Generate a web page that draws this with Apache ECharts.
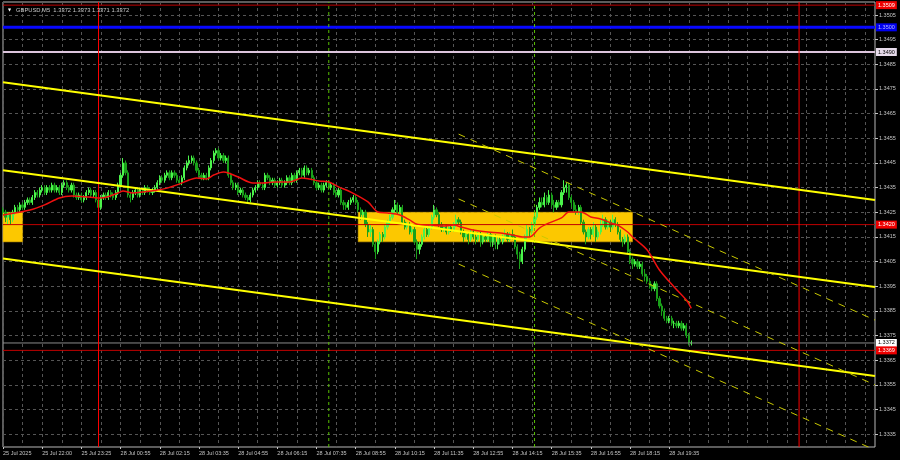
<!DOCTYPE html>
<html><head><meta charset="utf-8">
<script src="https://cdn.jsdelivr.net/npm/echarts@6/dist/echarts.min.js"></script>
<style>html,body{margin:0;padding:0;background:#000}#c{width:900px;height:460px}</style>
</head><body><div id="c"></div>
<script>
// ---------------- data ----------------
const opens=[1.3426,1.3425,1.3423,1.3424,1.3422,1.3425,1.3427,1.3426,1.3428,1.3427,
1.3429,1.3430,1.3429,1.3431,1.3433,1.3432,1.3434,1.3435,1.3433,1.3435,
1.3434,1.3436,1.3434,1.3435,1.3433,1.3436,1.3437,1.3435,1.3434,1.3436,
1.3432,1.3431,1.3432,1.3430,1.3431,1.3433,1.3434,1.3432,1.3433,1.3430,
1.3427,1.3431,1.3432,1.3431,1.3433,1.3432,1.3431,1.3433,1.3436,1.3440,
1.3445,1.3441,1.3432,1.3431,1.3433,1.3434,1.3432,1.3434,1.3433,1.3435,
1.3434,1.3433,1.3434,1.3435,1.3437,1.3439,1.3438,1.3440,1.3441,1.3439,
1.3441,1.3440,1.3438,1.3437,1.3439,1.3443,1.3445,1.3446,1.3447,1.3445,
1.3442,1.3440,1.3439,1.3440,1.3439,1.3443,1.3446,1.3449,1.3450,1.3447,
1.3448,1.3446,1.3447,1.3440,1.3437,1.3435,1.3436,1.3433,1.3434,1.3432,
1.3431,1.3430,1.3432,1.3434,1.3435,1.3437,1.3436,1.3435,1.3440,1.3439,
1.3437,1.3438,1.3436,1.3437,1.3438,1.3436,1.3437,1.3439,1.3437,1.3440,
1.3438,1.3441,1.3442,1.3440,1.3443,1.3441,1.3442,1.3439,1.3437,1.3435,
1.3436,1.3434,1.3436,1.3437,1.3435,1.3436,1.3433,1.3432,1.3434,1.3429,
1.3428,1.3427,1.3429,1.3430,1.3431,1.3429,1.3426,1.3424,1.3425,1.3420,
1.3417,1.3418,1.3412,1.3409,1.3413,1.3416,1.3415,1.3419,1.3421,1.3423,
1.3426,1.3428,1.3425,1.3427,1.3421,1.3419,1.3420,1.3417,1.3418,1.3413,
1.3410,1.3412,1.3415,1.3418,1.3416,1.3419,1.3423,1.3426,1.3424,1.3420,
1.3418,1.3419,1.3417,1.3419,1.3418,1.3420,1.3422,1.3421,1.3417,1.3415,
1.3416,1.3414,1.3417,1.3415,1.3414,1.3416,1.3413,1.3415,1.3414,1.3416,
1.3413,1.3415,1.3412,1.3414,1.3413,1.3415,1.3416,1.3414,1.3416,1.3415,
1.3411,1.3408,1.3405,1.3410,1.3415,1.3418,1.3417,1.3420,1.3423,1.3427,
1.3429,1.3428,1.3431,1.3429,1.3432,1.3428,1.3427,1.3429,1.3428,1.3433,
1.3435,1.3436,1.3431,1.3429,1.3426,1.3425,1.3427,1.3421,1.3417,1.3415,
1.3418,1.3416,1.3419,1.3415,1.3417,1.3420,1.3422,1.3419,1.3421,1.3419,
1.3422,1.3420,1.3417,1.3414,1.3413,1.3415,1.3409,1.3406,1.3404,1.3405,
1.3403,1.3404,1.3400,1.3399,1.3397,1.3395,1.3394,1.3396,1.3390,1.3387,
1.3385,1.3382,1.3381,1.3382,1.3380,1.3380,1.3379,1.3380,1.3378,1.3379,
1.3375,1.3372];
const closes=[1.3425,1.3423,1.3424,1.3422,1.3425,1.3427,1.3426,1.3428,1.3427,1.3429,
1.3430,1.3429,1.3431,1.3433,1.3432,1.3434,1.3435,1.3433,1.3435,1.3434,
1.3436,1.3434,1.3435,1.3433,1.3436,1.3437,1.3435,1.3434,1.3436,1.3432,
1.3431,1.3432,1.3430,1.3431,1.3433,1.3434,1.3432,1.3433,1.3430,1.3427,
1.3431,1.3432,1.3431,1.3433,1.3432,1.3431,1.3433,1.3436,1.3440,1.3445,
1.3441,1.3432,1.3431,1.3433,1.3434,1.3432,1.3434,1.3433,1.3435,1.3434,
1.3433,1.3434,1.3435,1.3437,1.3439,1.3438,1.3440,1.3441,1.3439,1.3441,
1.3440,1.3438,1.3437,1.3439,1.3443,1.3445,1.3446,1.3447,1.3445,1.3442,
1.3440,1.3439,1.3440,1.3439,1.3443,1.3446,1.3449,1.3450,1.3447,1.3448,
1.3446,1.3447,1.3440,1.3437,1.3435,1.3436,1.3433,1.3434,1.3432,1.3431,
1.3430,1.3432,1.3434,1.3435,1.3437,1.3436,1.3435,1.3440,1.3439,1.3437,
1.3438,1.3436,1.3437,1.3438,1.3436,1.3437,1.3439,1.3437,1.3440,1.3438,
1.3441,1.3442,1.3440,1.3443,1.3441,1.3442,1.3439,1.3437,1.3435,1.3436,
1.3434,1.3436,1.3437,1.3435,1.3436,1.3433,1.3432,1.3434,1.3429,1.3428,
1.3427,1.3429,1.3430,1.3431,1.3429,1.3426,1.3424,1.3425,1.3420,1.3417,
1.3418,1.3412,1.3409,1.3413,1.3416,1.3415,1.3419,1.3421,1.3423,1.3426,
1.3428,1.3425,1.3427,1.3421,1.3419,1.3420,1.3417,1.3418,1.3413,1.3410,
1.3412,1.3415,1.3418,1.3416,1.3419,1.3423,1.3426,1.3424,1.3420,1.3418,
1.3419,1.3417,1.3419,1.3418,1.3420,1.3422,1.3421,1.3417,1.3415,1.3416,
1.3414,1.3417,1.3415,1.3414,1.3416,1.3413,1.3415,1.3414,1.3416,1.3413,
1.3415,1.3412,1.3414,1.3413,1.3415,1.3416,1.3414,1.3416,1.3415,1.3411,
1.3408,1.3405,1.3410,1.3415,1.3418,1.3417,1.3420,1.3423,1.3427,1.3429,
1.3428,1.3431,1.3429,1.3432,1.3428,1.3427,1.3429,1.3428,1.3433,1.3435,
1.3436,1.3431,1.3429,1.3426,1.3425,1.3427,1.3421,1.3417,1.3415,1.3418,
1.3416,1.3419,1.3415,1.3417,1.3420,1.3422,1.3419,1.3421,1.3419,1.3422,
1.3420,1.3417,1.3414,1.3413,1.3415,1.3409,1.3406,1.3404,1.3405,1.3403,
1.3404,1.3400,1.3399,1.3397,1.3395,1.3394,1.3396,1.3390,1.3387,1.3385,
1.3382,1.3381,1.3382,1.3380,1.3380,1.3379,1.3380,1.3378,1.3379,1.3375,
1.3372,1.3372];
const highs=[1.3427,1.3426,1.3425,1.3425,1.3426,1.3428,1.3428,1.3429,1.3429,1.3430,
1.3431,1.3431,1.3432,1.3434,1.3434,1.3435,1.3436,1.3436,1.3436,1.3436,
1.3437,1.3437,1.3436,1.3436,1.3437,1.3438,1.3438,1.3436,1.3437,1.3437,
1.3433,1.3433,1.3433,1.3432,1.3434,1.3435,1.3435,1.3434,1.3434,1.3431,
1.3432,1.3433,1.3433,1.3434,1.3434,1.3433,1.3434,1.3437,1.3441,1.3447,
1.3446,1.3442,1.3433,1.3434,1.3435,1.3435,1.3435,1.3435,1.3436,1.3436,
1.3435,1.3435,1.3436,1.3438,1.3440,1.3440,1.3441,1.3442,1.3442,1.3442,
1.3442,1.3441,1.3439,1.3440,1.3444,1.3446,1.3448,1.3448,1.3448,1.3446,
1.3443,1.3441,1.3441,1.3441,1.3444,1.3447,1.3450,1.3451,1.3451,1.3449,
1.3449,1.3448,1.3448,1.3441,1.3438,1.3437,1.3437,1.3435,1.3435,1.3433,
1.3432,1.3433,1.3435,1.3436,1.3438,1.3438,1.3437,1.3441,1.3441,1.3440,
1.3439,1.3439,1.3438,1.3439,1.3439,1.3438,1.3440,1.3440,1.3441,1.3441,
1.3442,1.3443,1.3443,1.3444,1.3444,1.3443,1.3443,1.3440,1.3438,1.3437,
1.3437,1.3437,1.3438,1.3438,1.3437,1.3437,1.3434,1.3435,1.3435,1.3430,
1.3429,1.3430,1.3431,1.3432,1.3432,1.3430,1.3427,1.3426,1.3426,1.3421,
1.3420,1.3419,1.3413,1.3414,1.3417,1.3417,1.3420,1.3422,1.3424,1.3427,
1.3430,1.3429,1.3428,1.3428,1.3422,1.3421,1.3421,1.3419,1.3419,1.3414,
1.3413,1.3416,1.3419,1.3419,1.3420,1.3424,1.3428,1.3427,1.3425,1.3421,
1.3420,1.3420,1.3420,1.3420,1.3421,1.3424,1.3423,1.3422,1.3418,1.3417,
1.3417,1.3418,1.3418,1.3416,1.3417,1.3417,1.3416,1.3416,1.3417,1.3417,
1.3416,1.3416,1.3415,1.3415,1.3416,1.3418,1.3417,1.3417,1.3418,1.3416,
1.3412,1.3409,1.3411,1.3416,1.3420,1.3419,1.3421,1.3425,1.3428,1.3431,
1.3431,1.3433,1.3432,1.3434,1.3433,1.3430,1.3430,1.3430,1.3434,1.3438,
1.3437,1.3437,1.3432,1.3430,1.3428,1.3428,1.3428,1.3422,1.3418,1.3419,
1.3419,1.3421,1.3420,1.3418,1.3422,1.3424,1.3423,1.3422,1.3422,1.3424,
1.3423,1.3421,1.3418,1.3415,1.3416,1.3416,1.3410,1.3407,1.3406,1.3406,
1.3405,1.3405,1.3402,1.3400,1.3398,1.3396,1.3397,1.3397,1.3391,1.3388,
1.3386,1.3383,1.3383,1.3383,1.3381,1.3381,1.3381,1.3381,1.3380,1.3380,
1.3376,1.3373];
const lows=[1.3424,1.3421,1.3420,1.3420,1.3421,1.3424,1.3425,1.3425,1.3426,1.3426,
1.3428,1.3428,1.3428,1.3430,1.3431,1.3431,1.3433,1.3432,1.3432,1.3433,
1.3433,1.3433,1.3433,1.3432,1.3432,1.3435,1.3434,1.3433,1.3433,1.3431,
1.3430,1.3430,1.3429,1.3429,1.3430,1.3432,1.3431,1.3431,1.3429,1.3426,
1.3426,1.3430,1.3430,1.3430,1.3431,1.3430,1.3430,1.3432,1.3435,1.3439,
1.3440,1.3431,1.3429,1.3430,1.3432,1.3431,1.3431,1.3432,1.3432,1.3433,
1.3432,1.3432,1.3433,1.3434,1.3436,1.3437,1.3437,1.3439,1.3438,1.3438,
1.3439,1.3437,1.3436,1.3436,1.3438,1.3442,1.3444,1.3445,1.3444,1.3441,
1.3439,1.3438,1.3438,1.3438,1.3438,1.3442,1.3445,1.3448,1.3446,1.3446,
1.3445,1.3445,1.3439,1.3436,1.3434,1.3434,1.3432,1.3432,1.3431,1.3430,
1.3429,1.3429,1.3431,1.3433,1.3434,1.3435,1.3434,1.3434,1.3438,1.3436,
1.3436,1.3435,1.3435,1.3436,1.3435,1.3435,1.3436,1.3436,1.3436,1.3437,
1.3437,1.3440,1.3439,1.3439,1.3440,1.3440,1.3438,1.3436,1.3434,1.3434,
1.3433,1.3433,1.3435,1.3434,1.3434,1.3432,1.3431,1.3431,1.3428,1.3426,
1.3426,1.3426,1.3428,1.3429,1.3428,1.3425,1.3422,1.3422,1.3419,1.3415,
1.3415,1.3411,1.3406,1.3408,1.3412,1.3413,1.3414,1.3418,1.3420,1.3422,
1.3425,1.3424,1.3424,1.3420,1.3418,1.3418,1.3416,1.3416,1.3412,1.3406,
1.3408,1.3411,1.3414,1.3415,1.3415,1.3418,1.3422,1.3423,1.3419,1.3417,
1.3417,1.3416,1.3416,1.3417,1.3417,1.3419,1.3420,1.3416,1.3413,1.3414,
1.3412,1.3413,1.3414,1.3412,1.3413,1.3411,1.3412,1.3413,1.3413,1.3411,
1.3411,1.3410,1.3410,1.3412,1.3412,1.3414,1.3413,1.3413,1.3414,1.3410,
1.3406,1.3402,1.3404,1.3409,1.3414,1.3415,1.3416,1.3419,1.3422,1.3426,
1.3427,1.3427,1.3428,1.3428,1.3427,1.3425,1.3426,1.3427,1.3427,1.3432,
1.3433,1.3430,1.3427,1.3425,1.3424,1.3424,1.3420,1.3416,1.3412,1.3414,
1.3414,1.3415,1.3413,1.3414,1.3416,1.3419,1.3418,1.3418,1.3417,1.3418,
1.3419,1.3416,1.3413,1.3411,1.3412,1.3408,1.3404,1.3402,1.3403,1.3402,
1.3402,1.3399,1.3397,1.3396,1.3394,1.3393,1.3393,1.3389,1.3386,1.3383,
1.3381,1.3380,1.3380,1.3379,1.3378,1.3378,1.3378,1.3377,1.3377,1.3374,
1.3371,1.3371];
// moving average [bar index, value]
const maPoints=[[0,1.34239],[11,1.34259],[17,1.3428],[23,1.34308],[28,1.34316],[35,1.34312],[40,1.34308],
[47,1.34328],[49,1.34336],[53,1.34328],[57,1.34332],[63,1.3434],[67,1.34348],[71,1.34361],[76,1.34381],
[79,1.34389],[83,1.34385],[86,1.34401],[90,1.34413],[92,1.34409],[96,1.34393],[102,1.34369],[106,1.34369],
[111,1.34373],[117,1.34373],[122,1.34389],[125,1.34385],[129,1.34377],[133,1.34373],[137,1.34353],
[142,1.34332],[149,1.34292],[153,1.34251],[157,1.34247],[162,1.34239],[166,1.34219],[169,1.34202],
[175,1.34198],[180,1.34194],[184,1.34198],[187,1.3419],[192,1.34178],[198,1.3417],[203,1.34166],
[208,1.34158],[212,1.3415],[215,1.3415],[219,1.34186],[223,1.34207],[228,1.34227],[231,1.34251],
[236,1.34251],[240,1.34231],[244,1.34223],[248,1.34207],[251,1.34198],[255,1.3417],[257,1.3415],
[263,1.34097],[268,1.34016],[274,1.33947],[279,1.33894],[281,1.3386]];
const timeLabels=["25 Jul 2025","25 Jul 22:00","25 Jul 23:25","28 Jul 00:55","28 Jul 02:15","28 Jul 03:35",
"28 Jul 04:55","28 Jul 06:15","28 Jul 07:35","28 Jul 08:55","28 Jul 10:15","28 Jul 11:35","28 Jul 12:55",
"28 Jul 14:15","28 Jul 15:35","28 Jul 16:55","28 Jul 18:15","28 Jul 19:35"];
const priceTicks=[1.3335,1.3345,1.3355,1.3365,1.3375,1.3385,1.3395,1.3405,1.3415,1.3425,1.3435,1.3445,
1.3455,1.3465,1.3475,1.3485,1.3495,1.3505];
const levelValues=[1.3509,1.3500,1.3490,1.3420,1.3372,1.3369];
const redVerticals=[39,325];
const greenVerticals=[133,217];
const boxes=[[0,8,1.3425,1.3413],[145,257,1.3425,1.3413]];
const trendSolid=[[[0,1.34777],[356,1.3430]],[[0,1.3442],[356,1.33947]],[[0,1.34063],[356,1.33586]]];
const trendDashed=[[[186,1.34567],[356,1.33813]],[[186,1.34304],[356,1.3355]],[[186,1.3404],[356,1.33286]]];
const titleText="GBPUSD,M5  1.3372 1.3373 1.3371 1.3372";

// ---------------- chart ----------------
const SLOTS=357, LAST=SLOTS-1;
const Y_MIN=1.332982, Y_MAX=1.351027;
const cats=Array.from({length:SLOTS},(_,i)=>String(i));
const candles=opens.map((o,i)=>[o,closes[i],lows[i],highs[i]]);
const FONT='Liberation Sans';
const AX='#c4c4c4';
const levelStyle=[
 {line:'#c00000',w:1,bg:'#ee0000',fg:'#ffffff'},
 {line:'#0808ff',w:3,bg:'#0000f0',fg:'#b8b8ff'},
 {line:'#dcc4dc',w:2,bg:'#e8dcec',fg:'#000000'},
 {line:'#c00000',w:1,bg:'#ee0000',fg:'#ffffff'},
 {line:'#8a8a8a',w:1,bg:'#ffffff',fg:'#000000'},
 {line:'#c00000',w:1,bg:'#ee0000',fg:'#ffffff'}
];
const series=[];
series.push({type:'line',data:[],z:1,silent:true,
  markArea:{silent:true,itemStyle:{color:'#fcc800',borderColor:'#d8a800',borderWidth:0.5},
   data:boxes.map(b=>[{xAxis:b[0],yAxis:b[2]},{xAxis:b[1],yAxis:b[3]}])}});
series.push({type:'candlestick',data:candles,z:2,barWidth:1.7,silent:true,
  itemStyle:{color:'#4cf44c',color0:'#1aa01a',borderColor:'#4cf44c',borderColor0:'#1aa01a',borderWidth:1}});
// horizontal levels with right-axis price boxes
levelValues.forEach((v,k)=>series.push({type:'line',data:[[0,v],[LAST,v]],z:3,symbol:'none',silent:true,
  lineStyle:{color:levelStyle[k].line,width:levelStyle[k].w},
  endLabel:{show:true,distance:1,formatter:()=>v.toFixed(4),backgroundColor:levelStyle[k].bg,
    color:levelStyle[k].fg,fontSize:5.5,fontFamily:FONT,padding:[1,2,1,2],lineHeight:6}}));
redVerticals.forEach(x=>series.push({type:'line',data:[[x,Y_MIN],[x,Y_MAX]],z:3,symbol:'none',silent:true,
  lineStyle:{color:'#ff0000',width:1}}));
greenVerticals.forEach(x=>series.push({type:'line',data:[[x,Y_MIN],[x,Y_MAX]],z:3,symbol:'none',silent:true,
  lineStyle:{color:'#58c000',width:1,type:[3,3]}}));
trendSolid.forEach(t=>series.push({type:'line',data:t,z:4,symbol:'none',silent:true,
  lineStyle:{color:'#ffff00',width:2}}));
trendDashed.forEach(t=>series.push({type:'line',data:t,z:4,symbol:'none',silent:true,
  lineStyle:{color:'#c8c800',width:1,type:[7,6]}}));
series.push({type:'line',data:maPoints,z:5,symbol:'none',smooth:0.3,silent:true,
  lineStyle:{color:'#f01010',width:1.5}});

const chart=echarts.init(document.getElementById('c'),null,{renderer:'canvas'});
chart.setOption({
 animation:false,
 backgroundColor:'#000000',
 title:[
  {text:'▼',left:3,top:3,textStyle:{color:'#ffffff',fontSize:4,fontFamily:'DejaVu Sans',fontWeight:'normal'}},
  {text:titleText,left:11,top:2,textStyle:{color:'#c8c8c8',fontSize:5.8,fontFamily:FONT,fontWeight:'normal'}}
 ],
 grid:{left:2,right:25,top:2,bottom:13,show:true,borderColor:'#b8b8b8',borderWidth:1},
 xAxis:{type:'category',data:cats,boundaryGap:false,
  axisLine:{show:false},
  axisTick:{show:true,length:2,interval:i=>i%16===0&&i/16<timeLabels.length,lineStyle:{color:AX}},
  axisLabel:{interval:i=>i%16===0&&i/16<timeLabels.length,formatter:(v,i)=>timeLabels[i/16]||'',
   align:'left',color:AX,fontSize:5.5,fontFamily:FONT,margin:3},
  splitLine:{show:true,interval:i=>i%8===0,lineStyle:{color:'#555555',width:1,type:[3,3]}}},
 yAxis:{type:'value',position:'right',min:Y_MIN,max:Y_MAX,
  axisLine:{show:false},
  axisTick:{show:true,customValues:priceTicks,length:3,lineStyle:{color:AX}},
  axisLabel:{customValues:priceTicks,formatter:v=>v.toFixed(4),color:AX,fontSize:5.5,fontFamily:FONT,margin:4},
  splitLine:{show:true,lineStyle:{color:'#555555',width:1,type:[3,3]}}},
 series:series
});
</script></body></html>
